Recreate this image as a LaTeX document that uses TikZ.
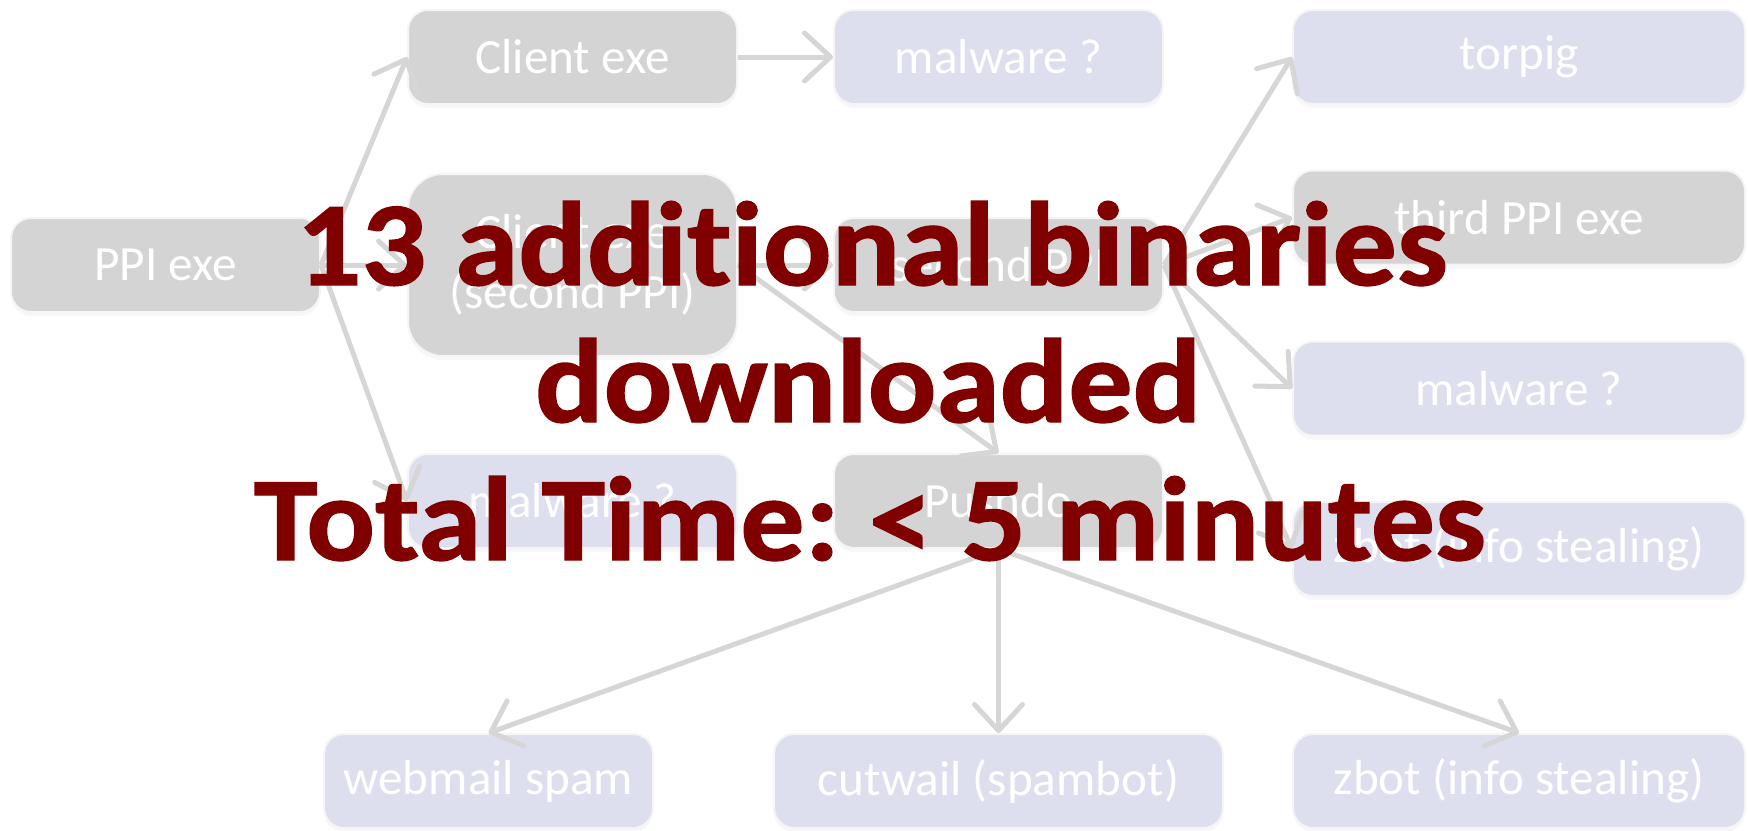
\documentclass[tikz,border=0pt]{standalone}
\usepackage{fontspec}
\setmainfont{Carlito}
\newfontfamily\titlefont[FakeStretch=1.07,FakeBold=1.2,Ligatures=NoCommon]{Carlito}
\usetikzlibrary{arrows.meta,shadows}
\definecolor{boxgray}{HTML}{D4D4D4}
\definecolor{boxlav}{HTML}{DDDFEE}
\definecolor{arrgray}{HTML}{D6D6D6}
\definecolor{titlered}{HTML}{800000}
\frenchspacing
\tikzset{
  box/.style={rounded corners=2mm, draw=white!92!gray, line width=0.2mm, text=white,
    font=\fontsize{14}{17}\selectfont, minimum height=9.4mm, inner sep=0pt, align=center,
    drop shadow={opacity=0.06, shadow xshift=0mm, shadow yshift=-0.4mm}},
  graybox/.style={box, fill=boxgray},
  lavbox/.style={box, fill=boxlav},
  arr/.style={draw=arrgray, line width=0.5mm, -{Straight Barb[length=2.6mm, width=4.8mm, round]}},
  title/.style={text=titlered, font=\titlefont\bfseries\fontsize{34}{40}\selectfont\frenchspacing, anchor=base, inner sep=0pt}
}
\begin{document}
\begin{tikzpicture}[x=0.1mm,y=-0.1mm]
\useasboundingbox (0,0) rectangle (1748,830);
% nodes
\node[graybox, minimum width=30.9mm] (ppi) at (165.5,265) {PPI exe};
\node[graybox, minimum width=32.9mm] (client) at (572.5,57) {Client exe};
\node[graybox, minimum width=32.9mm, minimum height=18.2mm, rounded corners=3.5mm] (client2) at (572.5,265) {Client exe\\(second PPI)};
\node[lavbox, minimum width=32.9mm] (malleft) at (572.5,501) {malware ?};
\node[lavbox, minimum width=32.9mm] (maltop) at (998.5,57) {malware ?};
\node[graybox, minimum width=32.9mm] (second) at (998.5,265) {second PPI};
\node[graybox, minimum width=32.9mm] (pushdo) at (998.5,501) {Pushdo};
\node[lavbox, minimum width=45.2mm] (torpig) at (1519,57) {torpig};
\node[graybox, minimum width=45.2mm] (third) at (1519,217.5) {third PPI exe};
\node[lavbox, minimum width=45.2mm] (malright) at (1519,388.5) {malware ?};
\node[lavbox, minimum width=45.2mm] (zbotmid) at (1519,549) {zbot (info stealing)};
\node[lavbox, minimum width=32.9mm] (webmail) at (488.5,781) {webmail spam};
\node[lavbox, minimum width=44.9mm] (cutwail) at (998.5,781) {cutwail (spambot)};
\node[lavbox, minimum width=45.2mm] (zbotbot) at (1519,781) {zbot (info stealing)};
% connectors
\draw[arr] (ppi.east) -- (client.west);
\draw[arr] (ppi.east) -- (client2.west);
\draw[arr] (ppi.east) -- (malleft.west);
\draw[arr] (client.east) -- (maltop.west);
\draw[arr] (client2.east) -- (second.west);
\draw[arr] (client2.east) -- (pushdo.north);
\draw[arr] (second.east) -- (torpig.west);
\draw[arr] (second.east) -- (third.west);
\draw[arr] (second.east) -- (malright.west);
\draw[arr] (second.east) -- (zbotmid.west);
\draw[arr] (pushdo.south) -- (webmail.north);
\draw[arr] (pushdo.south) -- (cutwail.north);
\draw[arr] (pushdo.south) -- (zbotbot.north);
% overlay title
\node[title] (t1) at (872,285) {13 additional binaries};
\node[title] (t2) at (868,422) {downloaded};
\node[title] (t3) at (870,560) {Total Time: < 5 minutes};
\end{tikzpicture}
\end{document}
